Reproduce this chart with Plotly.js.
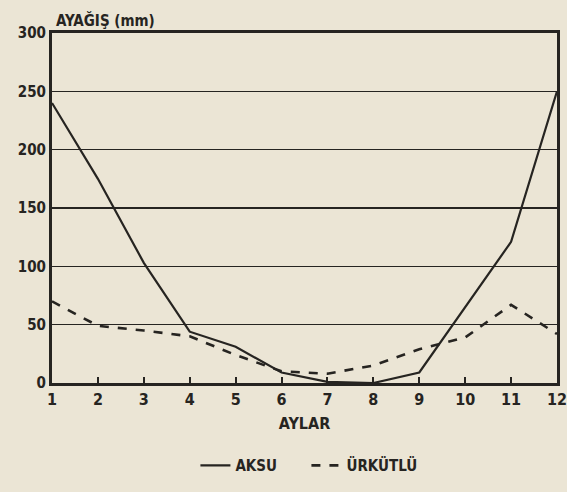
<!DOCTYPE html>
<html><head><meta charset="utf-8">
<script src="https://cdn.plot.ly/plotly-3.0.1.min.js"></script>
<style>html,body{margin:0;padding:0;background:#ebe5d5;}</style>
</head><body>
<div id="chart" style="width:567px;height:492px;"></div>
<script>
const months = [1,2,3,4,5,6,7,8,9,10,11,12];
const aksu = [240,175,103,44,31,9,1,0,9,65,121,250];
const urkutlu = [70,49,45,40,24,10,8,15,29,39,67,42];
const ink = '#262421';
const data = [
  {x:months, y:aksu, name:'AKSU', mode:'lines', line:{color:ink, width:2.2, dash:'solid'}},
  {x:months, y:urkutlu, name:'ÜRKÜTLÜ', mode:'lines', line:{color:ink, width:2.6, dash:'dash'}}
];
const layout = {
  width:567, height:492,
  paper_bgcolor:'#ebe5d5', plot_bgcolor:'#ebe5d5',
  margin:{l:52, r:10, t:33, b:107},
  font:{family:'DejaVu Sans Condensed', size:14, color:ink},
  showlegend:true,
  legend:{orientation:'h', x:0.284, xanchor:'left', y:-0.236, yanchor:'middle',
    font:{family:'DejaVu Sans Condensed', size:15, color:ink, weight:'bold'}, bgcolor:'rgba(0,0,0,0)',
    itemwidth:30, entrywidth:66, entrywidthmode:'pixels', tracegroupgap:0},
  xaxis:{range:[1,12], tickvals:months, ticks:'inside', ticklen:6, tickwidth:2, tickcolor:ink,
    ticklabeloverflow:'allow', automargin:false,
    showgrid:false, zeroline:false, showline:true, mirror:true, linecolor:ink, linewidth:3,
    tickfont:{family:'DejaVu Sans Condensed', size:16, color:ink, weight:'bold'},
    title:{text:'AYLAR', font:{family:'DejaVu Sans Condensed', size:16, color:ink, weight:'bold'}, standoff:10}},
  yaxis:{range:[0,300], tickvals:[0,50,100,150,200,250,300], ticks:'', showgrid:true, gridcolor:ink, gridwidth:1.6,
    zeroline:false, showline:true, mirror:true, linecolor:ink, linewidth:3,
    tickfont:{family:'DejaVu Sans Condensed', size:15, color:ink, weight:'bold'}},
  annotations:[{text:'AYAĞIŞ (mm)', xref:'paper', yref:'paper', x:0.0, y:1.0, xanchor:'left', yanchor:'bottom', yshift:1, xshift:2, showarrow:false,
    font:{family:'DejaVu Sans Condensed', size:15, color:ink, weight:'bold'}}]
};
Plotly.newPlot('chart', data, layout, {displayModeBar:false, staticPlot:true});
</script>
</body></html>
